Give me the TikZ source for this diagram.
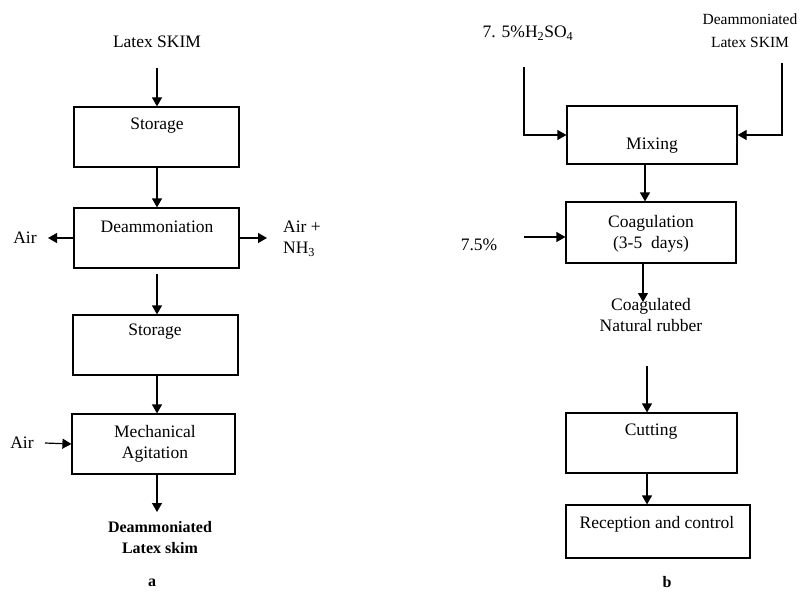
\documentclass[tikz,border=0pt]{standalone}
\usepackage{fontspec}
\setmainfont{Liberation Serif}
\usetikzlibrary{arrows.meta}
\begin{document}
\begin{tikzpicture}[x=1pt,y=-1pt,
  every node/.style={inner sep=0pt, font=\fontsize{17.5}{21}\selectfont},
  box/.style={draw, line width=1.2pt, rectangle},
  txt/.style={align=center},
  stxt/.style={align=center, font=\fontsize{15.5}{23}\selectfont},
  btxt/.style={align=center, font=\fontsize{16}{21}\selectfont\bfseries},
  arr/.style={line width=1.2pt, -{Triangle[length=9pt,width=10pt]}}]
\useasboundingbox (0,0) rectangle (802,591);
% ---------- left (a) ----------
\node[txt] (latex) at (157,42) {Latex SKIM};
\coordinate (a0) at (157,68);
\node[box, minimum width=165, minimum height=60] (s1) at (156.5,137) {};
\node[txt] (s1t) at (157,126) {Storage};
\node[box, minimum width=165, minimum height=60] (deam) at (156.5,238) {};
\node[txt] (deamt) at (157,227) {Deammoniation};
\node[txt] (airL) at (25,238) {Air};
\coordinate (airLend) at (48,238);
\coordinate (airRend) at (267,238);
\node[txt, align=left] (airR) at (302,239) {Air +\\NH\textsubscript{3}};
\coordinate (a2) at (157,274);
\node[box, minimum width=165, minimum height=60] (s2) at (155.5,345) {};
\node[txt] (s2t) at (155,332) {Storage};
\node[box, minimum width=163, minimum height=60] (mech) at (153.5,444) {};
\node[txt] (mecht) at (155,444) {Mechanical\\Agitation};
\node[txt] (airM) at (22,443) {Air};
\coordinate (airMst) at (45,443);
\coordinate (a4) at (157,512);
\node[btxt] (out) at (160,538) {Deammoniated\\Latex skim};
\node[btxt] (la) at (152,583) {a};
\draw[arr] (a0) -- (s1.north -| a0);
\draw[arr] (s1.south -| a0) -- (deam.north -| a0);
\draw[arr] (deam.west) -- (airLend);
\draw[arr] (deam.east) -- (airRend);
\draw[arr] (a2) -- (s2.north -| a2);
\draw[arr] (s2.south -| a2) -- (mech.north -| a2);
\draw[arr] (airMst) -- (mech.west);
\draw[arr] (a4 |- mech.south) -- (a4);
% ---------- right (b) ----------
\node[txt] (acid) at (528,33) {7. 5\%H\textsubscript{2}SO\textsubscript{4}};
\node[stxt] (dl) at (750,31) {Deammoniated\\Latex SKIM};
\node[box, minimum width=170, minimum height=58] (mix) at (652,135) {};
\node[txt] (mixt) at (652,146) {Mixing};
\coordinate (b0) at (524,67);
\coordinate (b1) at (782,63);
\node[box, minimum width=170, minimum height=61] (coag) at (651,232.5) {};
\node[txt] (coagt) at (651,234) {Coagulation\\(3-5~ days)};
\node[txt] (pct) at (479,245) {7.5\%};
\coordinate (b2) at (524,237);
\node[txt] (cnr) at (651,315.5) {Coagulated\\Natural rubber};
\coordinate (b3) at (643,302);
\coordinate (b4) at (647,366);
\node[box, minimum width=171, minimum height=60] (cut) at (651.5,443) {};
\node[txt] (cutt) at (651,432) {Cutting};
\node[box, minimum width=184, minimum height=53] (rec) at (658,531.5) {};
\node[txt] (rect) at (657,524) {Reception and control};
\node[btxt] (lb) at (667,582) {b};
\draw[arr] (b0) |- (mix.west);
\draw[arr] (b1) |- (mix.east);
\draw[arr] (mix.south -| 645,0) -- (coag.north -| 645,0);
\draw[arr] (b2) -- (b2 -| coag.west);
\draw[arr] (b3 |- coag.south) -- (b3);
\draw[arr] (b4) -- (cut.north -| b4);
\draw[arr] (cut.south -| b4) -- (rec.north -| b4);
\end{tikzpicture}
\end{document}
